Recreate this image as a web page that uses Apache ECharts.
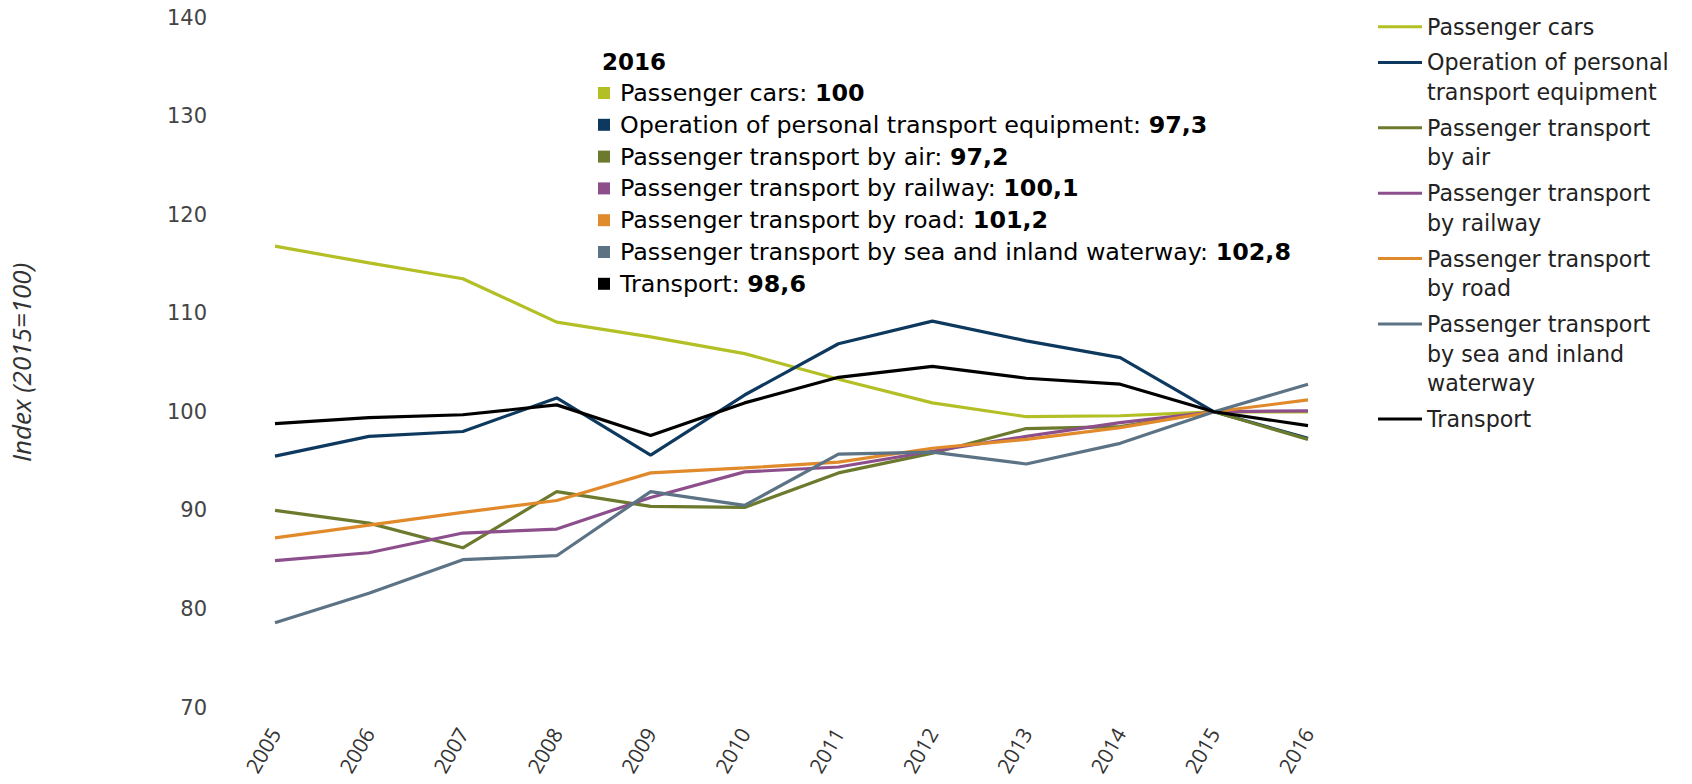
<!DOCTYPE html>
<html lang="en">
<head>
    <meta charset="UTF-8">
    <title>Passenger transport price index</title>
    <script src="https://cdn.jsdelivr.net/npm/echarts@6.0.0/dist/echarts.min.js"></script>
    <style>
        body {
            margin: 0;
            background: #fff;
        }
        #chart {
            width: 1692px;
            height: 784px;
        }
    </style>
</head>
<body>
    <div id="chart"></div>

    <script>
        // Data (index, 2015 = 100)
        const years = ['2005', '2006', '2007', '2008', '2009', '2010', '2011', '2012', '2013', '2014', '2015', '2016'];
        const yTicks = [70, 80, 90, 100, 110, 120, 130, 140];

        const seriesNames = [
            'Passenger cars',
            'Operation of personal transport equipment',
            'Passenger transport by air',
            'Passenger transport by railway',
            'Passenger transport by road',
            'Passenger transport by sea and inland waterway',
            'Transport'
        ];
        // legend wraps the long names
        const legendLabels = [
            'Passenger cars',
            'Operation of personal\ntransport equipment',
            'Passenger transport\nby air',
            'Passenger transport\nby railway',
            'Passenger transport\nby road',
            'Passenger transport\nby sea and inland\nwaterway',
            'Transport'
        ];

        const passengerCars = [116.8, 115.1, 113.5, 109.1, 107.6, 105.9, 103.3, 100.9, 99.5, 99.6, 100, 100];
        const operation     = [95.5, 97.5, 98.0, 101.4, 95.6, 101.7, 106.9, 109.2, 107.2, 105.5, 100, 97.3];
        const byAir         = [90.0, 88.7, 86.2, 91.9, 90.4, 90.3, 93.8, 95.8, 98.3, 98.5, 100, 97.2];
        const byRailway     = [84.9, 85.7, 87.7, 88.1, 91.3, 93.9, 94.4, 96.0, 97.5, 98.9, 100, 100.1];
        const byRoad        = [87.2, 88.5, 89.8, 91.0, 93.8, 94.3, 94.9, 96.3, 97.2, 98.4, 100, 101.2];
        const bySea         = [78.6, 81.6, 85.0, 85.4, 91.9, 90.5, 95.7, 95.9, 94.7, 96.8, 100, 102.8];
        const transport     = [98.8, 99.4, 99.7, 100.7, 97.6, 100.9, 103.5, 104.6, 103.4, 102.8, 100, 98.6];

        const allValues = [passengerCars, operation, byAir, byRailway, byRoad, bySea, transport];
        const colors = ['#b2bf25', '#0e395f', '#6b7a2d', '#8c4f8c', '#e08a2c', '#5b7385', '#000000'];

        const chart = echarts.init(document.getElementById('chart'), null, { renderer: 'svg' });

        const textFont = 'DejaVu Sans, Verdana, sans-serif';

        // one legend per series so the line sits on the first text row
        const lineH = 29.7;
        const legends = [];
        let centerY = 26.7;
        legendLabels.forEach((label, i) => {
            const rows = label.split('\n').length;
            legends.push({
                orient: 'vertical',
                left: 1378,
                top: centerY - (rows - 0.5) * lineH,
                padding: 0,
                itemWidth: 44,
                itemHeight: 14,
                icon: 'path://M0,0 L44,0 L44,3 L0,3 Z',
                data: [seriesNames[i]],
                formatter: () => '\n'.repeat(rows - 1) + label,
                textStyle: {
                    fontFamily: textFont,
                    fontSize: 22.2,
                    color: '#222',
                    lineHeight: lineH
                }
            });
            centerY += rows * lineH + 6;
        });

        // hover box for 2016, drawn as fixed text
        const last = years.length - 1;
        const fmt = v => String(v).replace('.', ',');
        const graphics = [{
            type: 'text',
            x: 602,
            y: 62,
            style: {
                text: years[last],
                font: 'bold 23px ' + textFont,
                fill: '#000',
                verticalAlign: 'middle'
            }
        }];
        seriesNames.forEach((name, i) => {
            const rowY = 93 + i * 31.8;
            graphics.push({
                type: 'rect',
                shape: { x: 598, y: rowY - 6, width: 12, height: 12 },
                style: { fill: colors[i] }
            });
            graphics.push({
                type: 'text',
                x: 620,
                y: rowY,
                style: {
                    text: '{n|' + name + ': }{b|' + fmt(allValues[i][last]) + '}',
                    verticalAlign: 'middle',
                    rich: {
                        n: { fontFamily: textFont, fontSize: 23.8, color: '#000' },
                        b: { fontFamily: textFont, fontSize: 23.8, fontWeight: 'bold', color: '#000' }
                    }
                }
            });
        });

        const option = {
            animation: false,
            color: colors,
            grid: {
                left: 275,
                right: 384,
                top: 17.5,
                bottom: 76.5
            },
            legend: legends,
            xAxis: {
                type: 'category',
                data: years,
                boundaryGap: false,
                axisLine: { show: false },
                axisTick: { show: false },
                axisLabel: {
                    rotate: 60,
                    margin: 22,
                    fontFamily: 'Open Sans, sans-serif',
                    fontSize: 21,
                    color: '#333'
                }
            },
            yAxis: {
                type: 'value',
                min: yTicks[0],
                max: yTicks[yTicks.length - 1],
                interval: yTicks[1] - yTicks[0],
                name: 'Index (2015=100)',
                nameLocation: 'middle',
                nameGap: 241,
                nameTextStyle: {
                    fontFamily: 'Open Sans, sans-serif',
                    fontStyle: 'italic',
                    fontSize: 26,
                    color: '#333'
                },
                splitLine: { show: false },
                axisLine: { show: false },
                axisTick: { show: false },
                axisLabel: {
                    margin: 68,
                    fontFamily: textFont,
                    fontSize: 21,
                    color: '#444'
                }
            },
            graphic: graphics,
            series: seriesNames.map((name, i) => ({
                name: name,
                type: 'line',
                data: allValues[i],
                showSymbol: false,
                symbol: 'none',
                lineStyle: { width: 3.2, color: colors[i] },
                itemStyle: { color: colors[i] }
            }))
        };

        chart.setOption(option);
    </script>
</body>
</html>
